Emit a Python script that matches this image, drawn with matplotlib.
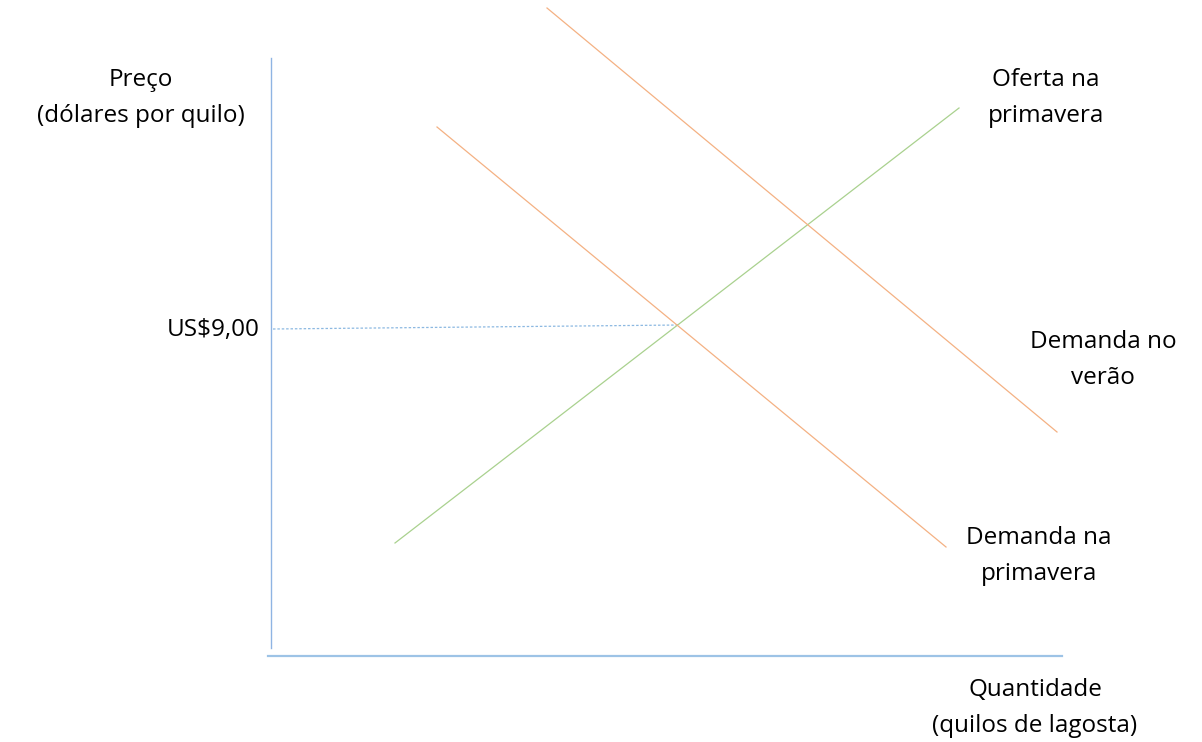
import matplotlib
matplotlib.use("Agg")
import matplotlib.pyplot as plt

plt.rcParams['font.family'] = ['Open Sans', 'DejaVu Sans']

# Curves in (quantity, price) chart units
supply_spring_q = [12.4, 68.8]
supply_spring_p = [11.3, 54.8]
demand_spring_q = [16.6, 67.5]
demand_spring_p = [52.9, 10.9]
demand_summer_q = [27.6, 78.6]
demand_summer_p = [64.8, 22.4]

# Guide from the price axis to the spring equilibrium
price_guide_q = [0.2, 40.9]
price_guide_p = [32.7, 33.1]
price_label = "US$9,00"

orange = "#F4B183"
green = "#A9D18E"
blue = "#9DC3E6"

fig = plt.figure(figsize=(12.02, 7.42), dpi=100)
ax = fig.add_axes([0, 0, 1, 1])
ax.set_xlim(-27.1, 93.1)
ax.set_ylim(-8.6, 65.6)
ax.axis("off")

# axes
ax.plot([0, 0], [0.8, 59.8], color="#8FB4E3", lw=1.0)
ax.plot([-0.3, 79.1], [0, 0], color=blue, lw=1.6)

ax.plot(price_guide_q, price_guide_p, color="#5B9BD5", lw=0.9, ls=(0, (2, 1.5)), alpha=0.7)

ax.plot(supply_spring_q, supply_spring_p, color=green, lw=0.9)
ax.plot(demand_spring_q, demand_spring_p, color=orange, lw=0.9)
ax.plot(demand_summer_q, demand_summer_p, color=orange, lw=0.9)

fs = 17.5
sp = 1.62
ax.text(-13.0, 55.8, "Preço\n(dólares por quilo)", ha="center", va="center",
        fontsize=fs, linespacing=sp)
ax.text(-1.1, 32.6, price_label, ha="right", va="center", fontsize=fs)
ax.text(77.5, 55.8, "Oferta na\nprimavera", ha="center", va="center",
        fontsize=fs, linespacing=sp)
ax.text(83.2, 29.6, "Demanda no\nverão", ha="center", va="center",
        fontsize=fs, linespacing=sp)
ax.text(76.8, 10.0, "Demanda na\nprimavera", ha="center", va="center",
        fontsize=fs, linespacing=sp)
ax.text(76.4, -5.2, "Quantidade\n(quilos de lagosta)", ha="center", va="center",
        fontsize=fs, linespacing=sp)

fig.savefig("out.png", dpi=100)
